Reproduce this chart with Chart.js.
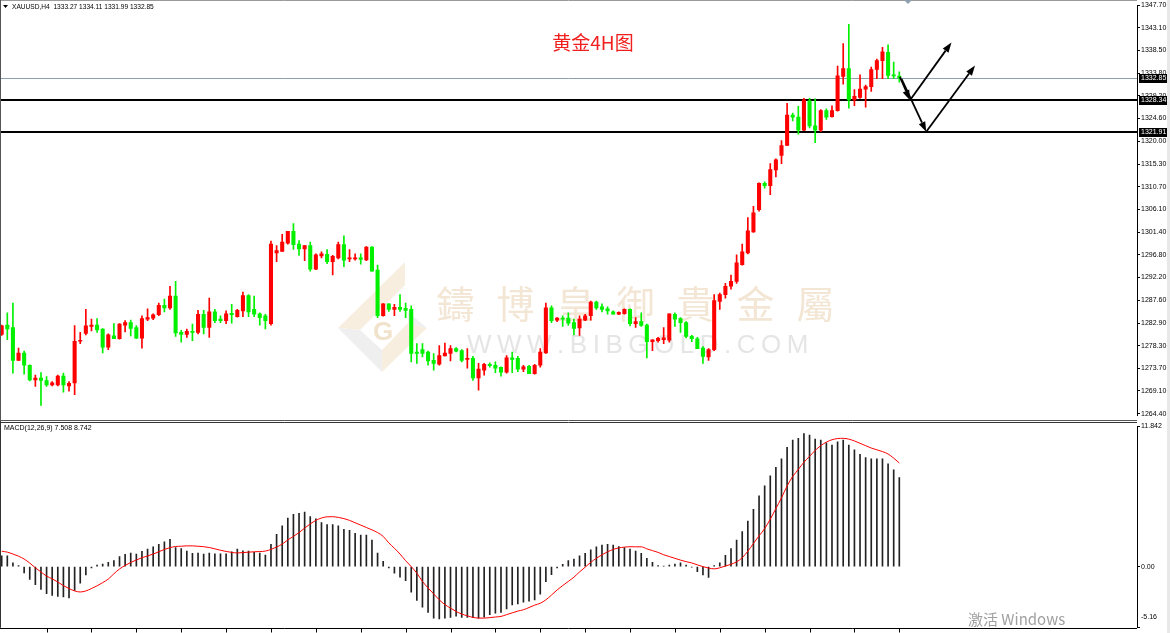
<!DOCTYPE html>
<html>
<head>
<meta charset="utf-8">
<script src="https://cdn.jsdelivr.net/npm/chart.js@4.4.1/dist/chart.umd.min.js"></script>
<style>
html, body { margin: 0; padding: 0; background: #fff; }
#wrap { position: relative; width: 1170px; height: 633px; overflow: hidden; }
canvas { position: absolute; left: 0; }
#main { top: 0; }
#macd { top: 421px; }
#edge { position: absolute; left: 1167px; top: 0; width: 3px; height: 633px; background: #e8e8e8; }
</style>
</head>
<body>
<div id="wrap">
  <canvas id="main" width="1170" height="421"></canvas>
  <canvas id="macd" width="1170" height="212"></canvas>
  <div id="edge"></div>
</div>
<script>
// === XAUUSD H4 candles + MACD ===

const opens = [
  1280.6,1282.5,1282.0,1275.3,1276.8,1274.3,1271.3,1271.7,1271.2,1270.3,
  1270.3,1272.1,1270.1,1270.7,1279.2,1280.8,1282.2,1282.5,1281.7,1278.0,
  1280.3,1279.7,1282.5,1283.0,1282.0,1279.8,1283.7,1283.9,1284.6,1286.5,
  1286.0,1288.4,1281.0,1280.6,1281.2,1281.0,1284.7,1282.0,1285.2,1283.7,
  1283.4,1284.9,1284.2,1285.4,1288.5,1285.7,1284.8,1284.4,1282.8,1297.2,
  1297.5,1299.2,1301.6,1299.0,1298.0,1298.7,1293.9,1296.6,1296.9,1295.4,
  1296.2,1298.9,1296.0,1296.0,1296.2,1295.8,1298.4,1293.7,1284.4,1286.8,
  1285.7,1286.1,1285.9,1285.7,1277.0,1277.5,1277.0,1275.3,1274.5,1276.2,
  1276.7,1277.7,1277.3,1275.5,1275.7,1271.7,1273.3,1274.5,1274.3,1273.9,
  1272.9,1275.8,1275.7,1273.5,1274.1,1272.6,1274.3,1276.8,1286.0,1283.5,
  1283.9,1283.9,1283.0,1281.9,1283.5,1284.4,1287.2,1286.2,1285.8,1285.2,
  1284.7,1284.8,1285.7,1282.8,1283.2,1282.5,1279.1,1279.3,1279.5,1279.4,
  1284.7,1283.8,1283.0,1280.2,1279.7,1277.8,1276.0,1277.5,1287.3,1288.7,
  1290.4,1291.4,1294.8,1297.2,1301.5,1306.0,1311.4,1310.9,1314.1,1317.1,
  1319.1,1325.3,1324.9,1322.2,1328.2,1323.1,1322.2,1326.2,1325.0,1326.2,
  1333.2,1334.8,1328.4,1328.9,1330.6,1331.1,1334.6,1336.4,1338.1,1333.5,
  1333.27
];
const highs = [
  1282.5,1285.0,1287.0,1277.8,1277.2,1274.4,1272.3,1272.8,1272.0,1271.0,
  1272.3,1272.7,1271.0,1282.4,1281.0,1285.7,1283.7,1283.8,1281.8,1280.7,
  1282.8,1282.8,1283.4,1283.5,1282.4,1284.4,1285.8,1284.8,1287.0,1287.8,
  1290.4,1291.4,1281.4,1281.7,1282.7,1285.5,1285.5,1288.0,1285.7,1284.4,
  1285.4,1286.7,1285.7,1289.2,1288.7,1288.4,1285.0,1284.7,1299.6,1298.7,
  1301.0,1301.6,1303.2,1299.7,1298.7,1299.4,1297.0,1297.4,1297.9,1296.7,
  1299.4,1300.7,1297.9,1297.0,1297.0,1298.5,1298.5,1294.7,1286.9,1286.8,
  1286.7,1288.7,1287.0,1286.4,1278.7,1278.7,1277.2,1276.7,1278.3,1278.8,
  1278.3,1277.9,1277.5,1277.7,1276.1,1274.7,1274.7,1274.8,1275.0,1274.0,
  1276.3,1277.0,1276.1,1274.3,1274.3,1274.5,1277.7,1287.0,1286.4,1284.0,
  1284.4,1285.0,1283.7,1284.4,1284.7,1287.4,1287.4,1286.8,1286.2,1285.4,
  1285.2,1285.8,1285.8,1284.0,1285.0,1282.7,1279.5,1280.0,1282.0,1284.8,
  1285.0,1284.0,1283.2,1280.4,1280.0,1278.1,1277.7,1288.7,1289.0,1291.0,
  1292.7,1296.8,1299.0,1304.4,1306.7,1311.5,1311.7,1315.4,1316.4,1320.1,
  1327.7,1325.7,1327.1,1328.7,1328.7,1328.6,1326.4,1326.6,1327.2,1335.3,
  1339.9,1343.8,1330.5,1333.5,1331.4,1335.1,1336.7,1339.1,1339.6,1336.1,
  1334.11
];
const lows = [
  1280.4,1279.5,1272.7,1275.3,1272.5,1271.1,1270.0,1266.1,1270.0,1270.1,
  1270.1,1268.8,1269.0,1268.3,1278.7,1280.5,1281.3,1281.0,1276.8,1277.5,
  1279.7,1279.6,1281.1,1280.3,1279.7,1277.8,1283.4,1283.6,1284.4,1285.2,
  1285.7,1280.2,1279.0,1280.0,1279.3,1280.7,1280.7,1280.0,1283.0,1283.0,
  1282.8,1282.9,1284.1,1284.2,1284.2,1284.2,1282.5,1281.7,1282.5,1295.4,
  1297.5,1299.0,1297.9,1296.7,1295.6,1293.5,1293.8,1296.2,1295.0,1292.7,
  1296.0,1294.4,1295.4,1295.7,1294.9,1295.6,1293.5,1284.0,1284.3,1285.3,
  1284.4,1285.3,1284.0,1275.0,1274.7,1276.0,1274.3,1273.3,1274.3,1276.2,
  1275.2,1277.0,1275.0,1273.7,1271.2,1269.2,1272.3,1273.9,1272.8,1272.1,
  1272.7,1272.8,1273.0,1273.0,1272.6,1272.5,1273.9,1276.7,1283.0,1283.2,
  1282.2,1282.4,1280.5,1280.4,1283.4,1283.5,1285.7,1285.2,1284.7,1284.7,
  1284.6,1284.7,1282.3,1282.0,1282.2,1275.8,1277.3,1279.0,1278.7,1279.0,
  1282.2,1281.0,1279.9,1279.1,1277.7,1274.7,1275.3,1277.3,1285.7,1288.0,
  1289.8,1291.0,1294.7,1297.0,1301.4,1305.7,1310.4,1309.1,1312.7,1315.4,
  1319.1,1324.1,1321.4,1322.1,1322.7,1319.7,1321.9,1324.4,1324.9,1326.1,
  1331.6,1326.7,1327.2,1328.7,1326.9,1330.1,1332.7,1332.7,1332.7,1332.7,
  1331.99
];
const closes = [
  1282.35,1281.7,1275.3,1276.8,1274.3,1271.3,1271.7,1271.2,1270.3,1270.7,
  1272.1,1270.3,1270.6,1279.2,1279.4,1282.35,1282.5,1281.5,1278.0,1280.5,
  1279.7,1282.7,1283.0,1281.8,1279.8,1283.8,1284.0,1284.6,1286.5,1286.0,
  1288.4,1280.9,1280.6,1281.2,1281.0,1284.7,1282.0,1285.2,1283.4,1283.4,
  1284.8,1284.6,1285.5,1288.5,1285.2,1284.7,1284.0,1283.4,1299.0,1297.7,
  1299.4,1301.6,1298.9,1298.0,1298.7,1293.9,1296.8,1297.0,1295.4,1296.5,
  1298.9,1295.7,1296.2,1296.2,1295.9,1298.4,1293.5,1284.4,1286.8,1285.7,
  1286.1,1285.7,1285.5,1276.7,1276.7,1276.7,1275.2,1274.7,1276.3,1276.8,
  1277.7,1277.2,1275.3,1275.6,1271.7,1273.5,1274.5,1274.2,1273.7,1272.9,
  1275.8,1275.5,1273.5,1274.0,1272.6,1274.3,1277.0,1286.0,1283.4,1283.9,
  1283.7,1282.9,1281.8,1283.7,1284.4,1287.2,1286.0,1285.7,1285.4,1284.7,
  1285.1,1285.7,1282.8,1283.2,1282.4,1279.1,1279.5,1279.8,1279.9,1284.8,
  1283.7,1283.0,1280.2,1279.7,1277.7,1276.1,1277.5,1287.5,1288.7,1290.4,
  1291.4,1295.2,1297.4,1301.7,1305.4,1311.4,1310.9,1314.2,1316.2,1319.1,
  1325.3,1324.9,1322.2,1328.4,1323.1,1322.2,1326.2,1324.9,1326.2,1333.3,
  1334.8,1328.4,1329.1,1330.6,1331.1,1334.6,1336.4,1338.2,1333.4,1333.3,
  1332.85
];

// MACD(12,26,9): histogram (main line) and signal line
const macdMain = [
  0.92,0.92,0.31,0.08,-0.53,-1.09,-1.53,-1.92,-2.28,-2.42,
  -2.51,-2.56,-2.65,-2.01,-1.39,-0.70,-0.11,0.14,0.22,0.36,
  0.50,0.84,1.03,1.14,1.06,1.28,1.48,1.67,1.89,2.09,
  2.31,1.61,1.53,1.31,1.11,1.14,1.06,1.14,1.08,1.08,
  1.08,1.25,1.48,1.34,1.31,1.20,1.14,0.97,1.89,2.73,
  3.43,4.10,4.40,4.49,4.60,4.21,4.04,3.71,3.54,3.54,
  3.43,3.15,3.07,2.81,2.67,2.67,2.23,1.14,0.45,-0.11,
  -0.56,-0.89,-1.19,-2.16,-2.86,-3.42,-3.86,-4.34,-4.42,-4.34,
  -4.28,-4.17,-4.28,-4.28,-4.28,-4.34,-4.26,-4.06,-3.92,-3.86,
  -3.56,-3.23,-3.14,-3.00,-2.92,-2.81,-2.33,-1.28,-0.67,-0.11,
  0.20,0.50,0.64,0.92,1.11,1.42,1.67,1.81,1.87,1.81,
  1.70,1.61,1.48,1.31,1.11,0.70,0.36,0.08,0.03,0.14,
  0.22,0.31,0.14,-0.05,-0.42,-0.70,-0.92,0.08,0.31,0.95,
  1.53,2.23,2.95,3.84,4.84,5.98,6.82,7.66,8.38,9.10,
  10.06,10.67,10.81,11.23,11.09,10.76,10.67,10.45,10.26,10.53,
  10.67,10.26,9.84,9.48,9.20,9.08,9.08,9.08,8.67,8.17,
  7.51
];
const macdSignal = [
  1.30,1.22,1.06,0.88,0.64,0.30,-0.10,-0.45,-0.80,-1.03,
  -1.30,-1.60,-1.85,-2.05,-2.14,-2.05,-1.85,-1.62,-1.35,-1.05,
  -0.60,-0.20,0.10,0.35,0.56,0.75,0.90,1.06,1.25,1.45,
  1.60,1.70,1.72,1.75,1.75,1.72,1.68,1.61,1.50,1.38,
  1.28,1.20,1.15,1.18,1.22,1.25,1.27,1.31,1.45,1.65,
  1.90,2.25,2.55,2.87,3.25,3.60,3.90,4.10,4.20,4.21,
  4.15,4.05,3.90,3.70,3.50,3.30,3.10,2.87,2.55,2.00,
  1.55,1.06,0.50,0.00,-0.55,-1.25,-1.80,-2.30,-2.80,-3.20,
  -3.50,-3.78,-4.00,-4.15,-4.28,-4.34,-4.34,-4.30,-4.25,-4.20,
  -4.05,-3.90,-3.75,-3.64,-3.45,-3.25,-3.09,-2.80,-2.40,-1.97,
  -1.60,-1.25,-0.89,-0.45,-0.05,0.36,0.70,1.00,1.25,1.45,
  1.58,1.64,1.68,1.67,1.67,1.50,1.35,1.20,1.00,0.85,
  0.70,0.55,0.42,0.31,0.15,0.00,-0.12,-0.19,-0.10,0.05,
  0.20,0.40,0.75,1.30,1.95,2.60,3.20,4.00,4.90,5.80,
  6.80,7.60,8.20,8.80,9.30,9.80,10.20,10.50,10.70,10.80,
  10.82,10.75,10.60,10.40,10.20,10.00,9.85,9.70,9.50,9.15,
  8.74
];

const priceTicks = [1347.70,1343.10,1338.50,1333.80,1329.20,1324.60,1320.00,1315.30,1310.70,
  1306.10,1301.40,1296.80,1292.20,1287.60,1282.90,1278.30,1273.70,1269.10,1264.40];
const macdTicks = [11.842, 0, -5.16];
const macdTickLabels = ['11.842', '0.00', '-5.16'];
const timeTicks = [8,16,24,32,40,48,56,64,72,80,88,96,104,112,120,128,136,144,152,160];

const lastPrice = 1332.85;
const levels = [1328.34, 1321.91];
// hand-drawn arrows, in (bar index, price)
const arrows = [
  [[160.1, 1333.1], [161.9, 1328.34]],
  [[161.9, 1328.34], [169.3, 1340.1]],
  [[160.4, 1332.7], [164.8, 1321.91]],
  [[164.8, 1321.91], [173.5, 1335.4]]
];

const X_MIN = -0.303, X_MAX = 202.37;
const idx = opens.map((_, i) => i);
const upColor = '#ff0000', downColor = '#00f000';
const candleColors = idx.map(i => closes[i] >= opens[i] ? upColor : downColor);
const FONT = '"Liberation Sans", Arial, sans-serif';

function poly(ctx, pts, color) {
  ctx.fillStyle = color;
  ctx.beginPath();
  pts.forEach((p, k) => k ? ctx.lineTo(p[0], p[1]) : ctx.moveTo(p[0], p[1]));
  ctx.closePath();
  ctx.fill();
}

function drawArrow(ctx, x1, y1, x2, y2) {
  const a = Math.atan2(y2 - y1, x2 - x1);
  const len = 10, hw = 3.5;
  const bx = x2 - len * Math.cos(a), by = y2 - len * Math.sin(a);
  ctx.strokeStyle = '#000';
  ctx.lineWidth = 1.8;
  ctx.beginPath();
  ctx.moveTo(x1, y1);
  ctx.lineTo(bx, by);
  ctx.stroke();
  poly(ctx, [[x2, y2], [bx + hw * Math.sin(a), by - hw * Math.cos(a)], [bx - hw * Math.sin(a), by + hw * Math.cos(a)]], '#000');
}

function tagBox(ctx, y, text) {
  const yy = Math.round(y);
  ctx.fillStyle = '#000';
  ctx.fillRect(1139, yy - 4, 28, 9);
  ctx.fillStyle = '#fff';
  ctx.font = '7px ' + FONT;
  ctx.textAlign = 'left';
  ctx.textBaseline = 'middle';
  ctx.fillText(text, 1141, yy + 0.5);
}

// watermark, levels (under the candles)
const mainBackground = {
  id: 'mainBackground',
  beforeDatasetsDraw(chart) {
    const ctx = chart.ctx, y = chart.scales.y, area = chart.chartArea;
    ctx.save();
    // logo
    poly(ctx, [[338,328],[405,262],[405,285],[370,320],[360,330]], '#f8eedf');
    poly(ctx, [[338,328],[360,330],[382,350],[382,372]], '#efefef');
    poly(ctx, [[382,372],[382,350],[408,323],[427,328]], '#f8eedf');
    poly(ctx, [[408,312],[427,328],[408,323]], '#efefef');
    ctx.fillStyle = '#f1e2cc';
    ctx.font = 'bold 26px ' + FONT;
    ctx.textAlign = 'center';
    ctx.textBaseline = 'middle';
    ctx.fillText('G', 383, 333);
    // company name
    ctx.fillStyle = '#f3e6d5';
    ctx.font = '38px "Noto Sans CJK TC"';
    '鑄博皇御貴金屬'.split('').forEach((ch, k) => ctx.fillText(ch, 455.5 + 60 * k, 304));
    // web address
    ctx.fillStyle = '#e5e5e5';
    ctx.font = '26px ' + FONT;
    ctx.textAlign = 'left';
    let x = 467;
    'WWW.BIBGOLD.COM'.split('').forEach(ch => {
      ctx.fillText(ch, x, 346);
      x += ctx.measureText(ch).width + 5.5;
    });
    // last price line
    ctx.strokeStyle = '#8e9eae';
    ctx.lineWidth = 1;
    const py = Math.round(y.getPixelForValue(lastPrice)) + 0.5;
    ctx.beginPath(); ctx.moveTo(area.left, py); ctx.lineTo(area.right, py); ctx.stroke();
    // support / resistance lines
    ctx.strokeStyle = '#000';
    ctx.lineWidth = 2;
    levels.forEach(v => {
      const ly = Math.round(y.getPixelForValue(v));
      ctx.beginPath(); ctx.moveTo(area.left, ly); ctx.lineTo(area.right, ly); ctx.stroke();
    });
    ctx.restore();
  },
  afterDraw(chart) {
    const ctx = chart.ctx, xs = chart.scales.x, y = chart.scales.y, area = chart.chartArea;
    ctx.save();
    arrows.forEach(([a, b]) => drawArrow(ctx,
      xs.getPixelForValue(a[0]), y.getPixelForValue(a[1]),
      xs.getPixelForValue(b[0]), y.getPixelForValue(b[1])));
    tagBox(ctx, y.getPixelForValue(lastPrice), lastPrice.toFixed(2));
    levels.forEach(v => tagBox(ctx, y.getPixelForValue(v), v.toFixed(2)));
    // frame
    ctx.strokeStyle = '#9a9a9a';
    ctx.lineWidth = 1;
    ctx.beginPath(); ctx.moveTo(0, 0.5); ctx.lineTo(area.right, 0.5); ctx.stroke();
    ctx.strokeStyle = '#555';
    ctx.beginPath(); ctx.moveTo(0.5, 0); ctx.lineTo(0.5, 421); ctx.stroke();
    ctx.beginPath(); ctx.moveTo(0, 420.5); ctx.lineTo(area.right, 420.5); ctx.stroke();
    // shift marker
    poly(ctx, [[904, 0], [912, 0], [908, 4]], '#8f9fb0');
    // header
    poly(ctx, [[3, 5], [8, 5], [5.5, 8]], '#000');
    ctx.fillStyle = '#000';
    ctx.font = '6.6px ' + FONT;
    ctx.textAlign = 'left';
    ctx.textBaseline = 'middle';
    ctx.fillText('XAUUSD,H4  1333.27 1334.11 1331.99 1332.85', 12, 7);
    // title
    ctx.fillStyle = '#f0201e';
    ctx.font = '19px "Noto Sans CJK SC"';
    ctx.textAlign = 'center';
    ctx.fillText('黄金4H图', 593, 43);
    ctx.restore();
  }
};

new Chart(document.getElementById('main'), {
  type: 'bar',
  data: {
    datasets: [
      {
        data: idx.map(i => ({ x: i, y: [lows[i], highs[i]] })),
        backgroundColor: candleColors,
        barThickness: 1,
        grouped: false,
        order: 2
      },
      {
        data: idx.map(i => ({ x: i, y: [opens[i], closes[i]] })),
        backgroundColor: candleColors,
        barThickness: 3.4,
        minBarLength: 1,
        grouped: false,
        order: 1
      }
    ]
  },
  options: {
    responsive: false,
    animation: false,
    events: [],
    layout: { autoPadding: false, padding: { top: 2, bottom: 1, left: 0, right: 0 } },
    plugins: { legend: { display: false }, tooltip: { enabled: false } },
    scales: {
      x: { type: 'linear', offset: false, min: X_MIN, max: X_MAX, display: false },
      y: {
        position: 'right',
        min: 1264.0,
        max: 1347.7,
        afterFit: s => { s.width = 33; },
        afterBuildTicks: s => { s.ticks = priceTicks.map(v => ({ value: v })); },
        grid: { drawOnChartArea: false, tickLength: 3, color: '#000' },
        border: { color: '#000' },
        ticks: { autoSkip: false, padding: 1, color: '#000', font: { family: FONT, size: 7 }, callback: v => v.toFixed(2) }
      }
    }
  },
  plugins: [mainBackground]
});

const macdOverlay = {
  id: 'macdOverlay',
  afterDraw(chart) {
    const ctx = chart.ctx, xs = chart.scales.x, area = chart.chartArea;
    ctx.save();
    ctx.strokeStyle = '#333';
    ctx.lineWidth = 1;
    ctx.beginPath(); ctx.moveTo(0, 1.5); ctx.lineTo(area.right, 1.5); ctx.stroke();
    ctx.beginPath(); ctx.moveTo(0.5, 0); ctx.lineTo(0.5, area.bottom); ctx.stroke();
    const by = Math.round(area.bottom) + 0.5;
    ctx.strokeStyle = '#000';
    ctx.beginPath(); ctx.moveTo(0, by); ctx.lineTo(area.right, by); ctx.stroke();
    timeTicks.forEach(t => {
      const tx = Math.round(xs.getPixelForValue(t)) + 0.5;
      ctx.beginPath(); ctx.moveTo(tx, by); ctx.lineTo(tx, by + 4); ctx.stroke();
    });
    ctx.fillStyle = '#000';
    ctx.font = '7px ' + FONT;
    ctx.textAlign = 'left';
    ctx.textBaseline = 'middle';
    ctx.fillText('MACD(12,26,9) 7.508 8.742', 4, 7);
    ctx.fillText(macdTickLabels[2], 1141, 196);
    ctx.fillStyle = '#a0a0a0';
    ctx.font = '15px "Noto Sans CJK SC"';
    ctx.fillText('激活 Windows', 968, 198);
    ctx.restore();
  }
};

new Chart(document.getElementById('macd'), {
  type: 'bar',
  data: {
    datasets: [
      {
        type: 'line',
        data: idx.map(i => ({ x: i, y: macdSignal[i] })),
        borderColor: '#ff0000',
        borderWidth: 1,
        pointRadius: 0,
        cubicInterpolationMode: 'monotone',
        order: 0
      },
      {
        data: idx.map(i => ({ x: i, y: macdMain[i] })),
        backgroundColor: '#222',
        barThickness: 1,
        grouped: false,
        order: 1
      }
    ]
  },
  options: {
    responsive: false,
    animation: false,
    events: [],
    layout: { autoPadding: false, padding: { top: 5, bottom: 3.5, left: 0, right: 0 } },
    plugins: { legend: { display: false }, tooltip: { enabled: false } },
    scales: {
      x: { type: 'linear', offset: false, min: X_MIN, max: X_MAX, display: false },
      y: {
        position: 'right',
        min: -5.16,
        max: 11.842,
        afterFit: s => { s.width = 33; },
        afterBuildTicks: s => { s.ticks = macdTicks.map(v => ({ value: v })); },
        grid: { drawOnChartArea: false, tickLength: 3, color: '#000' },
        border: { color: '#000' },
        ticks: { autoSkip: false, padding: 1, color: '#000', font: { family: FONT, size: 7 },
          callback: (v, k) => k === 2 ? '' : macdTickLabels[k] }
      }
    }
  },
  plugins: [macdOverlay]
});
</script>
</body>
</html>
